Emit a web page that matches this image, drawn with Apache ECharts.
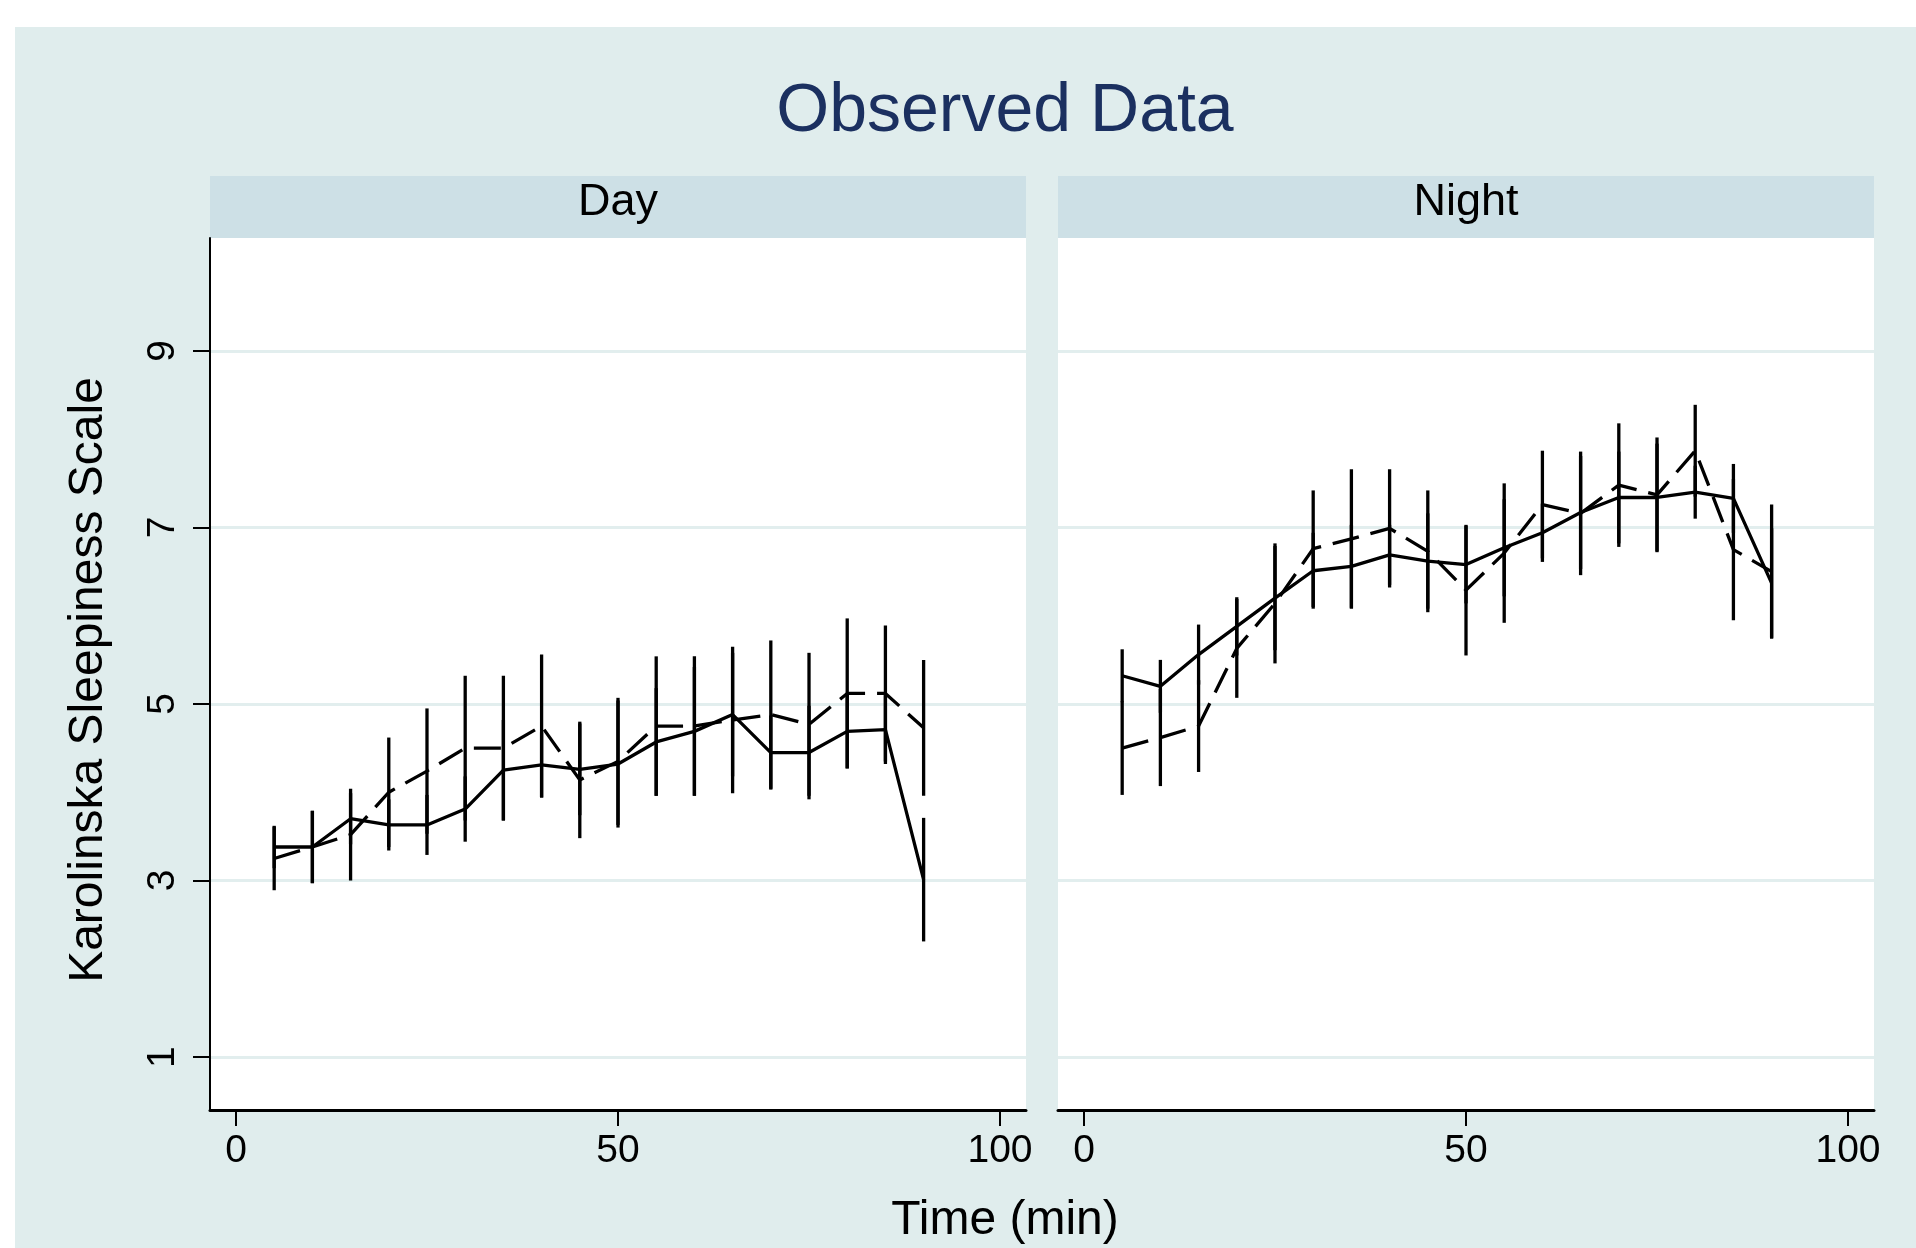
<!DOCTYPE html>
<html>
<head>
<meta charset="utf-8">
<title>Observed Data</title>
<script src="https://cdn.jsdelivr.net/npm/echarts@6/dist/echarts.min.js"></script>
<style>
  html, body { margin: 0; padding: 0; background: #fff; }
  #main { width: 1916px; height: 1248px; }
</style>
</head>
<body>
<div id="main"></div>
<script>
// time points (min)
let times = [5, 10, 15, 20, 25, 30, 35, 40, 45, 50, 55, 60, 65, 70, 75, 80, 85, 90];

// Day panel
let daySolid = [3.38, 3.38, 3.70, 3.63, 3.63, 3.81, 4.25, 4.31, 4.26, 4.32, 4.57, 4.69, 4.88, 4.45, 4.45, 4.69, 4.71, 3.01];
let daySolidCI = [0.24, 0.41, 0.29, 0.29, 0.34, 0.37, 0.57, 0.37, 0.52, 0.72, 0.61, 0.73, 0.70, 0.42, 0.53, 0.42, 0.39, 0.70];
let dayDashed = [3.25, 3.38, 3.52, 4.00, 4.24, 4.50, 4.50, 4.75, 4.14, 4.35, 4.75, 4.75, 4.82, 4.88, 4.77, 5.12, 5.12, 4.73];
let dayDashedCI = [0.36, 0.41, 0.52, 0.62, 0.71, 0.82, 0.82, 0.81, 0.66, 0.72, 0.79, 0.79, 0.83, 0.84, 0.81, 0.85, 0.77, 0.77];

// Night panel
let nightSolid = [5.32, 5.20, 5.56, 5.88, 6.20, 6.51, 6.56, 6.69, 6.62, 6.58, 6.77, 6.94, 7.17, 7.34, 7.34, 7.40, 7.33, 6.37];
let nightSolidCI = [0.30, 0.30, 0.34, 0.33, 0.59, 0.43, 0.47, 0.34, 0.54, 0.44, 0.55, 0.33, 0.64, 0.52, 0.61, 0.30, 0.39, 0.62];
let nightDashed = [4.50, 4.62, 4.75, 5.63, 6.14, 6.76, 6.87, 6.99, 6.73, 6.29, 6.71, 7.26, 7.16, 7.48, 7.37, 7.87, 6.75, 6.50];
let nightDashedCI = [0.53, 0.55, 0.52, 0.56, 0.68, 0.66, 0.79, 0.67, 0.69, 0.74, 0.79, 0.61, 0.70, 0.70, 0.65, 0.52, 0.80, 0.76];

let xTicks = [0, 50, 100];
let yTicks = [1, 3, 5, 7, 9];
let panelNames = ['Day', 'Night'];

let font = '"Liberation Sans", Arial, Helvetica, sans-serif';
let bgColor = '#e0eded';
let stripColor = '#cde0e6';
let gridLineColor = '#e2eeee';

let myChart = echarts.init(document.getElementById('main'));

function pairs(vals) {
  return times.map(function (t, i) { return [t, vals[i]]; });
}
function bars(vals, ci) {
  return times.map(function (t, i) { return [t, vals[i], ci[i]]; });
}
// vertical CI bar: mean +/- half width
function renderBar(params, api) {
  let x = api.value(0);
  let m = api.value(1);
  let h = api.value(2);
  let lo = api.coord([x, m - h]);
  let hi = api.coord([x, m + h]);
  return {
    type: 'line',
    shape: { x1: lo[0], y1: lo[1], x2: hi[0], y2: hi[1] },
    style: { stroke: '#000', lineWidth: 3.3 }
  };
}

let grids = [
  { left: 210, top: 238, width: 816, height: 872 },
  { left: 1058, top: 238, width: 816, height: 872 }
];

let xAxis = [];
let yAxis = [];
for (let i = 0; i < 2; i++) {
  grids[i].show = true;
  grids[i].backgroundColor = '#fff';
  grids[i].borderWidth = 0;
  xAxis.push({
    type: 'value',
    gridIndex: i,
    min: -3.4,
    max: 103.4,
    axisLine: { show: true, onZero: false, lineStyle: { color: '#000', width: 3 } },
    axisTick: { show: true, length: 16, customValues: xTicks, lineStyle: { color: '#000', width: 2 } },
    axisLabel: { customValues: xTicks, margin: 22, color: '#000', fontSize: 39, fontFamily: font },
    splitLine: { show: false }
  });
  yAxis.push({
    type: 'value',
    gridIndex: i,
    min: 0.4,
    max: 10.28,
    axisLine: { show: i === 0, onZero: false, lineStyle: { color: '#000', width: 2 } },
    axisTick: { show: i === 0, length: 17, customValues: yTicks, lineStyle: { color: '#000', width: 2 } },
    axisLabel: { show: i === 0, customValues: yTicks, rotate: 90, margin: 27, color: '#000', fontSize: 39, fontFamily: font },
    splitLine: { show: true, lineStyle: { color: gridLineColor, width: 3 } }
  });
}

let panels = [
  { solid: daySolid, solidCI: daySolidCI, dashed: dayDashed, dashedCI: dayDashedCI },
  { solid: nightSolid, solidCI: nightSolidCI, dashed: nightDashed, dashedCI: nightDashedCI }
];
let series = [];
panels.forEach(function (p, i) {
  series.push({
    type: 'custom', xAxisIndex: i, yAxisIndex: i, renderItem: renderBar,
    data: bars(p.solid, p.solidCI), z: 3, silent: true
  });
  series.push({
    type: 'custom', xAxisIndex: i, yAxisIndex: i, renderItem: renderBar,
    data: bars(p.dashed, p.dashedCI), z: 3, silent: true
  });
  series.push({
    type: 'line', xAxisIndex: i, yAxisIndex: i, data: pairs(p.solid),
    symbol: 'none', lineStyle: { color: '#000', width: 3.3 }, z: 4, silent: true
  });
  series.push({
    type: 'line', xAxisIndex: i, yAxisIndex: i, data: pairs(p.dashed),
    symbol: 'none', lineStyle: { color: '#000', width: 3.3, type: [27, 12] }, z: 4, silent: true
  });
});

let graphic = [
  { type: 'rect', z: -100, shape: { x: 15, y: 27, width: 1901, height: 1221 }, style: { fill: bgColor } },
  {
    type: 'text', x: 1005, y: 112, z: 10,
    style: { text: 'Observed Data', font: '68px ' + font, fill: '#1b3060', align: 'center', verticalAlign: 'middle' }
  },
  {
    type: 'text', x: 1005, y: 1221, z: 10,
    style: { text: 'Time (min)', font: '48px ' + font, fill: '#000', align: 'center', verticalAlign: 'middle' }
  },
  {
    type: 'text', x: 89, y: 680, rotation: Math.PI / 2, z: 10,
    style: { text: 'Karolinska Sleepiness Scale', font: '48px ' + font, fill: '#000', align: 'center', verticalAlign: 'middle' }
  }
];
grids.forEach(function (g, i) {
  graphic.push({
    type: 'rect', z: -50, shape: { x: g.left, y: 176, width: g.width, height: 62 }, style: { fill: stripColor }
  });
  graphic.push({
    type: 'text', x: g.left + g.width / 2, y: 203, z: 10,
    style: { text: panelNames[i], font: '45px ' + font, fill: '#000', align: 'center', verticalAlign: 'middle' }
  });
});

let option = {
  backgroundColor: '#fff',
  animation: false,
  grid: grids,
  xAxis: xAxis,
  yAxis: yAxis,
  graphic: graphic,
  series: series
};
myChart.setOption(option);
</script>
</body>
</html>
